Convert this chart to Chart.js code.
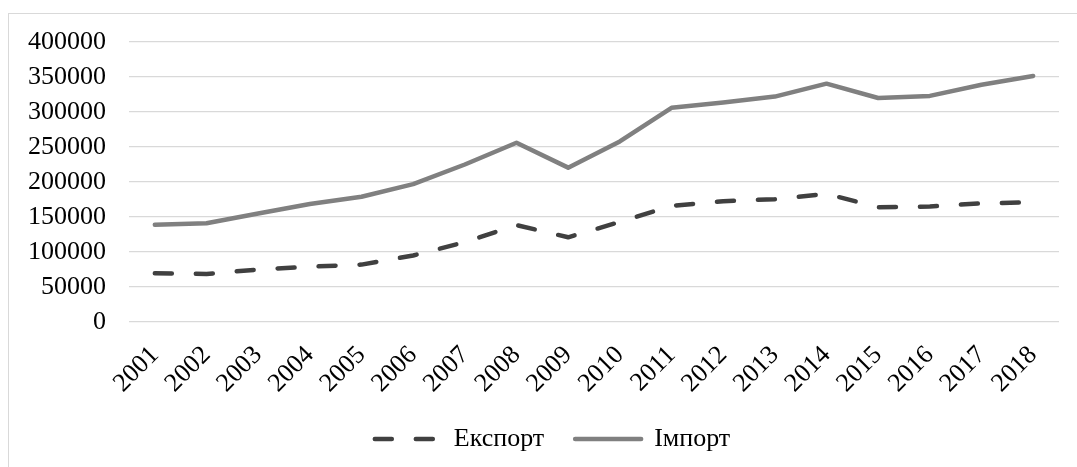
<!DOCTYPE html>
<html>
<head>
    <meta charset="utf-8">
    <title>Експорт та імпорт</title>
    <script src="https://cdn.jsdelivr.net/npm/chart.js@4.4.1/dist/chart.umd.min.js"></script>
    <style>
        body { margin: 0; overflow: hidden; background: #fff; }
        .frame {
            position: absolute; left: 8px; top: 13px;
            width: 1200px; height: 600px;
            border: 1px solid #d9d9d9;
        }
        #myChart { position: absolute; left: 0; top: 0; }
    </style>
</head>
<body>
    <div class="frame"></div>
    <canvas id="myChart" width="1077" height="467"></canvas>

    <script>
        // years and values
        var years = ["2001", "2002", "2003", "2004", "2005", "2006", "2007", "2008", "2009",
                     "2010", "2011", "2012", "2013", "2014", "2015", "2016", "2017", "2018"];
        var exportData = [69500, 68600, 75000, 79000, 82000, 95000, 114000, 138500, 121000,
                          143000, 166000, 172500, 175500, 183000, 164000, 165000, 169500, 171000];
        var importData = [139000, 141000, 155000, 168500, 179000, 197000, 225000, 256000, 220500,
                          258000, 306000, 313500, 322000, 340500, 320000, 323000, 339000, 351500];
        var yTicks = [0, 50000, 100000, 150000, 200000, 250000, 300000, 350000, 400000];

        Chart.defaults.font.family = "'Liberation Serif', 'Times New Roman', serif";
        Chart.defaults.color = "#000";

        // legend in the picture sits a bit right of centre
        var shiftLegend = {
            id: "shiftLegend",
            afterLayout: function (chart) {
                chart.legend.left += 19;
                chart.legend.right += 19;
            }
        };

        var ctx = document.getElementById("myChart").getContext("2d");
        new Chart(ctx, {
            type: "line",
            plugins: [shiftLegend],
            data: {
                labels: years,
                datasets: [{
                    label: "Експорт",
                    data: exportData,
                    borderColor: "#404040",
                    backgroundColor: "#404040",
                    borderWidth: 4.5,
                    borderDash: [17, 24],
                    borderCapStyle: "round",
                    borderJoinStyle: "round",
                    pointRadius: 0,
                    tension: 0
                }, {
                    label: "Імпорт",
                    data: importData,
                    borderColor: "#808080",
                    backgroundColor: "#808080",
                    borderWidth: 4.5,
                    borderCapStyle: "round",
                    borderJoinStyle: "round",
                    pointRadius: 0,
                    tension: 0
                }]
            },
            options: {
                responsive: false,
                animation: false,
                layout: { padding: { left: 8, right: 18, top: 42, bottom: 5 } },
                plugins: {
                    tooltip: { enabled: false },
                    legend: {
                        position: "bottom",
                        labels: {
                            usePointStyle: true,
                            pointStyle: "line",
                            pointStyleWidth: 66,
                            boxHeight: 26,
                            padding: 31,
                            font: { size: 26 },
                            // line samples with the dataset's dash and width
                            generateLabels: function (chart) {
                                var items = Chart.defaults.plugins.legend.labels.generateLabels(chart);
                                items.forEach(function (it) {
                                    var ds = chart.data.datasets[it.datasetIndex];
                                    it.lineDash = ds.borderDash || [];
                                    it.lineWidth = ds.borderWidth;
                                    it.lineCap = "round";
                                    it.strokeStyle = ds.borderColor;
                                    it.pointStyle = "line";
                                });
                                return items;
                            }
                        }
                    }
                },
                scales: {
                    x: {
                        offset: true,
                        afterFit: function (s) { s.height = 73; },
                        grid: { display: false },
                        border: { display: false },
                        ticks: {
                            autoSkip: false,
                            maxRotation: 45,
                            minRotation: 45,
                            padding: 10,
                            font: { size: 26 }
                        }
                    },
                    y: {
                        min: 0,
                        max: 400000,
                        afterFit: function (s) { s.width = 121; },
                        afterBuildTicks: function (s) {
                            s.ticks = yTicks.map(function (v) { return { value: v }; });
                        },
                        grid: { color: "#d9d9d9", lineWidth: 1.3, drawTicks: false },
                        border: { display: false },
                        ticks: {
                            padding: 23,
                            font: { size: 26 },
                            callback: function (v) { return String(v); }
                        }
                    }
                }
            }
        });
    </script>
</body>
</html>
